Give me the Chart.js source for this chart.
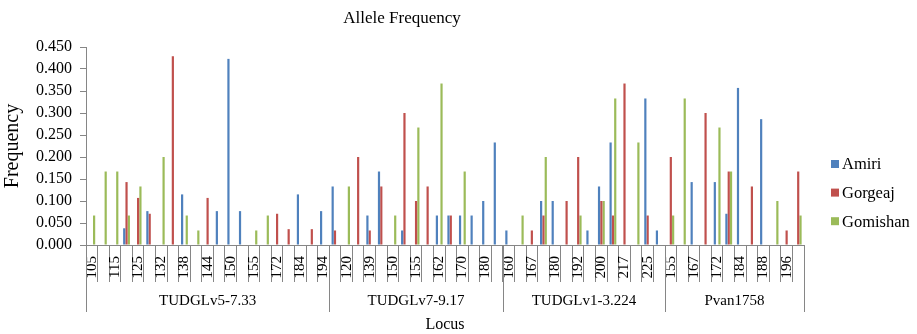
<!DOCTYPE html>
<html>
<head>
<meta charset="utf-8">
<script src="https://cdn.jsdelivr.net/npm/chart.js@4/dist/chart.umd.min.js"></script>
<style>
  html, body { margin: 0; padding: 0; background: #fff; }
  #wrap { width: 917px; height: 334px; }
</style>
</head>
<body>
<div id="wrap"><canvas id="alleleChart"></canvas></div>
<script>
// loci and how many allele classes each one has on the axis
var loci = ['TUDGLv5-7.33', 'TUDGLv7-9.17', 'TUDGLv1-3.224', 'Pvan1758'];
var locusSizes = [21, 15, 14, 12];

// allele sizes (only every second one is printed on the axis)
var alleles = [
    '105', '110', '115', '120', '125', '128', '132', '135', '138', '141', '144',
    '147', '150', '152', '155', '160', '172', '178', '184', '190', '194',
    '115', '120', '130', '139', '145', '150', '152', '155', '158', '162',
    '166', '170', '175', '180', '185',
    '160', '164', '167', '175', '180', '186', '192', '196', '200', '208',
    '217', '221', '225', '230',
    '155', '160', '167', '170', '172', '178', '184', '186', '188', '192',
    '196', '200'
];

var amiri = [
    0, 0, 0, 0.038, 0, 0.077, 0, 0, 0.115, 0, 0,
    0.077, 0.423, 0.077, 0, 0, 0, 0, 0.115, 0, 0.077,
    0.133, 0, 0, 0.067, 0.167, 0, 0.033, 0, 0, 0.067,
    0.067, 0.067, 0.067, 0.1, 0.233,
    0.033, 0, 0, 0.1, 0.1, 0, 0, 0.033, 0.133, 0.233,
    0, 0, 0.333, 0.033,
    0, 0, 0.143, 0, 0.143, 0.071, 0.357, 0, 0.286, 0,
    0, 0
];
var gorgeaj = [
    0, 0, 0, 0.143, 0.107, 0.071, 0, 0.429, 0, 0, 0.107,
    0, 0, 0, 0, 0, 0.071, 0.036, 0, 0.036, 0,
    0.033, 0, 0.2, 0.033, 0.133, 0, 0.3, 0.1, 0.133, 0,
    0.067, 0, 0, 0, 0,
    0, 0, 0.033, 0.067, 0, 0.1, 0.2, 0, 0.1, 0.067,
    0.367, 0, 0.067, 0,
    0.2, 0, 0, 0.3, 0, 0.167, 0, 0.133, 0, 0,
    0.033, 0.167
];
var gomishan = [
    0.067, 0.167, 0.167, 0.067, 0.133, 0, 0.2, 0, 0.067, 0.033, 0,
    0, 0, 0, 0.033, 0.067, 0, 0, 0, 0, 0,
    0, 0.133, 0, 0, 0, 0.067, 0, 0.267, 0, 0.367,
    0, 0.167, 0, 0, 0,
    0, 0.067, 0, 0.2, 0, 0, 0.067, 0, 0.1, 0.333,
    0, 0.233, 0, 0,
    0.067, 0.333, 0, 0, 0.267, 0.167, 0, 0, 0, 0.1,
    0, 0.067
];

// y axis ticks
var yTicks = [0, 0.05, 0.1, 0.15, 0.2, 0.25, 0.3, 0.35, 0.4, 0.45];

var serif = "'Liberation Serif', 'Times New Roman', serif";
var axisGrey = '#868686';

// draws the locus row under the allele labels, and the legend
var locusRow = {
    id: 'locusRow',
    afterDraw: function (chart) {
        var ctx = chart.ctx;
        var x = chart.scales.x;
        var half = (x.getPixelForValue(1) - x.getPixelForValue(0)) / 2;
        ctx.save();
        ctx.strokeStyle = axisGrey;
        ctx.lineWidth = 1;
        ctx.fillStyle = '#000';
        ctx.font = '15px ' + serif;
        ctx.textAlign = 'center';
        ctx.textBaseline = 'middle';
        var start = 0;
        for (var i = 0; i <= loci.length; i++) {
            var edge = Math.round(x.getPixelForValue(start) - half) + 0.5;
            ctx.beginPath();
            ctx.moveTo(edge, x.top);
            ctx.lineTo(edge, 312);
            ctx.stroke();
            if (i < loci.length) {
                var end = start + locusSizes[i];
                var left = x.getPixelForValue(start) - half;
                var right = x.getPixelForValue(end - 1) + half;
                ctx.fillText(loci[i], (left + right) / 2, 301);
                start = end;
            }
        }

        // legend
        ctx.textAlign = 'left';
        ctx.font = '16.5px ' + serif;
        chart.data.datasets.forEach(function (ds, k) {
            var cy = 164 + k * 28.6;
            ctx.fillStyle = ds.backgroundColor;
            ctx.fillRect(831, cy - 4, 8, 8);
            ctx.fillStyle = '#000';
            ctx.fillText(ds.label, 842, cy + 1);
        });
        ctx.restore();
    }
};

var ctx = document.getElementById('alleleChart').getContext('2d');
var alleleChart = new Chart(ctx, {
    type: 'bar',
    data: {
        labels: alleles,
        datasets: [
            { label: 'Amiri', data: amiri, backgroundColor: '#4F81BD' },
            { label: 'Gorgeaj', data: gorgeaj, backgroundColor: '#C0504D' },
            { label: 'Gomishan', data: gomishan, backgroundColor: '#9BBB59' }
        ]
    },
    options: {
        responsive: true,
        maintainAspectRatio: false,
        animation: false,
        categoryPercentage: 0.6,
        barPercentage: 0.95,
        layout: { padding: { top: 0, right: 113, bottom: 0, left: 0 } },
        plugins: {
            legend: { display: false },
            tooltip: { enabled: false },
            title: {
                display: true,
                text: 'Allele Frequency',
                color: '#000',
                font: { family: serif, size: 17, weight: 'normal' },
                padding: { top: 8, bottom: 18.6 }
            }
        },
        scales: {
            x: {
                afterFit: function (scale) { scale.height = 89; },
                border: { color: axisGrey },
                grid: {
                    offset: true,
                    drawOnChartArea: false,
                    tickLength: 37,
                    color: axisGrey
                },
                ticks: {
                    autoSkip: false,
                    minRotation: 90,
                    maxRotation: 90,
                    padding: -26,
                    color: '#000',
                    font: { family: serif, size: 15 },
                    callback: function (value, index) {
                        return index % 2 === 0 ? this.getLabelForValue(value) : '';
                    }
                },
                title: {
                    display: true,
                    text: 'Locus',
                    color: '#000',
                    font: { family: serif, size: 16 },
                    padding: { top: 0, bottom: 0 }
                }
            },
            y: {
                min: 0,
                max: 0.45,
                afterFit: function (scale) { scale.width = 86; },
                afterBuildTicks: function (scale) {
                    scale.ticks = yTicks.map(function (v) { return { value: v }; });
                },
                border: { color: axisGrey },
                grid: {
                    drawOnChartArea: false,
                    tickLength: 6,
                    color: axisGrey
                },
                ticks: {
                    autoSkip: false,
                    padding: 8,
                    color: '#000',
                    font: { family: serif, size: 16 },
                    callback: function (value) { return value.toFixed(3); }
                },
                title: {
                    display: true,
                    text: 'Frequency',
                    color: '#000',
                    font: { family: serif, size: 20 },
                    padding: { top: 1, bottom: 0 }
                }
            }
        }
    },
    plugins: [locusRow]
});
</script>
</body>
</html>
